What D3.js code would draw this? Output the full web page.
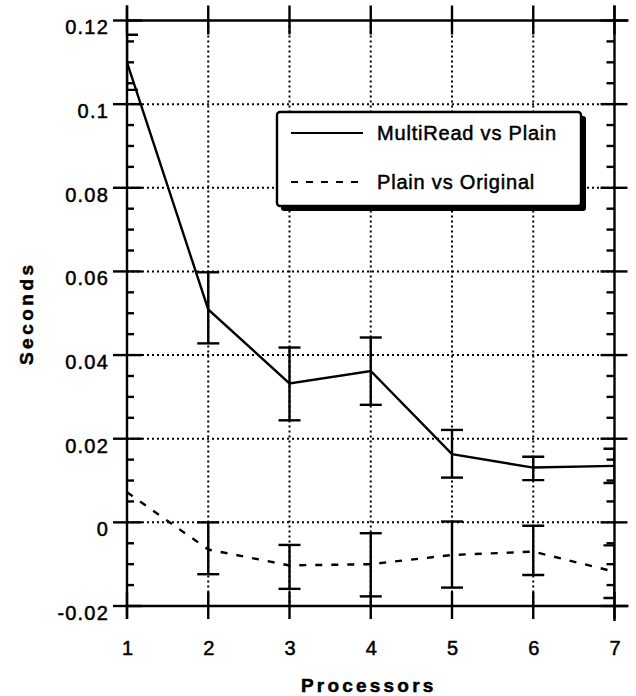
<!DOCTYPE html>
<html lang="en">
  <head>
    <meta charset="utf-8" />
    <title>MultiRead vs Plain</title>
    <script src="https://d3js.org/d3.v7.min.js"></script>
    <style type="text/css">
      body { margin: 0; background: #fff; }
      text { font-family: 'Liberation Sans', Arial, Helvetica, sans-serif; fill: #000; stroke: #000; stroke-width: 0.5px; }
    </style>
  </head>
  <body>
    <script type="text/javascript">
      //Width and height
      const w = 636;
      const h = 696;

      const processors = [1, 2, 3, 4, 5, 6, 7];

      // MultiRead vs Plain
      const multiRead = [0.110, 0.0509, 0.0332, 0.0362, 0.0163, 0.0131, 0.0135];
      const multiReadHigh = [0.1166, 0.0598, 0.0418, 0.0442, 0.0221, 0.0157, 0.0176];
      const multiReadLow = [0.1034, 0.0428, 0.0244, 0.0281, 0.0107, 0.0101, 0.0094];

      // Plain vs Original
      const plainOrig = [0.0072, -0.0065, -0.0103, -0.0100, -0.0078, -0.0070, -0.0118];
      const plainOrigHigh = [null, 0.0, -0.0054, -0.0026, 0.0002, -0.0008, -0.0055];
      const plainOrigLow = [null, -0.0124, -0.0159, -0.0177, -0.0156, -0.0126, -0.0181];

      const yTicks = [-0.02, 0, 0.02, 0.04, 0.06, 0.08, 0.1, 0.12];
      const yTickLabels = ['-0.02', '0', '0.02', '0.04', '0.06', '0.08', '0.1', '0.12'];
      const yMinor = [];
      for (let i = 0; i <= 28; i++) {
        if (i % 4 !== 0) yMinor.push(-0.02 + i * 0.005);
      }

      const legendNames = ['MultiRead vs Plain', 'Plain vs Original'];

      const xScale = d3.scaleLinear().domain([1, 7]).range([127, 614.5]);
      const yScale = d3.scaleLinear().domain([-0.02, 0.12]).range([606, 20.5]);

      const x0 = xScale(1), x1 = xScale(7);
      const yTop = yScale(0.12), yBot = yScale(-0.02);

      //Create SVG element
      const svg = d3.select('body').append('svg').attr('width', w).attr('height', h);

      svg.append('defs').append('clipPath').attr('id', 'plot')
        .append('rect').attr('x', x0).attr('y', yTop - 2).attr('width', x1 - x0).attr('height', yBot - yTop + 4);

      //dotted grid
      const grid = svg.append('g')
        .attr('stroke', '#000')
        .attr('stroke-width', 2)
        .attr('stroke-dasharray', '2,3');
      grid.selectAll('line.h')
        .data(yTicks.slice(1, -1))
        .enter()
        .append('line')
        .attr('x1', x0).attr('x2', x1)
        .attr('y1', (d) => yScale(d)).attr('y2', (d) => yScale(d));
      grid.selectAll('line.v')
        .data(processors.slice(1, -1))
        .enter()
        .append('line')
        .attr('x1', (d) => xScale(d)).attr('x2', (d) => xScale(d))
        .attr('y1', yTop).attr('y2', yBot);

      //frame and ticks
      const frame = svg.append('g').attr('stroke', '#000').attr('stroke-width', 2.4);
      frame.append('line').attr('x1', x0).attr('x2', x1 + 14).attr('y1', yTop).attr('y2', yTop);
      frame.append('line').attr('x1', x0).attr('x2', x1 + 14).attr('y1', yBot).attr('y2', yBot);
      frame.append('line').attr('x1', x0).attr('x2', x0).attr('y1', yTop - 15).attr('y2', yBot + 13);
      frame.append('line').attr('x1', x1).attr('x2', x1).attr('y1', yTop - 15).attr('y2', yBot + 15);

      yTicks.forEach((d) => {
        frame.append('line').attr('x1', x0 - 14).attr('x2', x0 + 15).attr('y1', yScale(d)).attr('y2', yScale(d));
        frame.append('line').attr('x1', x1 - 14).attr('x2', x1 + 13).attr('y1', yScale(d)).attr('y2', yScale(d));
      });
      yMinor.forEach((d) => {
        frame.append('line').attr('x1', x0).attr('x2', x0 + 7).attr('y1', yScale(d)).attr('y2', yScale(d));
        frame.append('line').attr('x1', x1 - 8).attr('x2', x1).attr('y1', yScale(d)).attr('y2', yScale(d));
      });
      processors.forEach((d) => {
        frame.append('line').attr('x1', xScale(d)).attr('x2', xScale(d)).attr('y1', yTop - 15).attr('y2', yTop + 14);
        frame.append('line').attr('x1', xScale(d)).attr('x2', xScale(d)).attr('y1', yBot - 14).attr('y2', yBot + 13);
      });

      //tick labels
      svg.append('g')
        .attr('transform', `translate(${x0 - 18},7)`)
        .call(d3.axisLeft(yScale).tickValues(yTicks).tickSize(0).tickPadding(0)
          .tickFormat((d, i) => yTickLabels[i]))
        .call((g) => g.select('.domain').remove())
        .selectAll('text')
        .attr('font-size', 20)
        .attr('letter-spacing', 1.2)
        .style('font-family', "'Liberation Sans', Arial, sans-serif");

      svg.append('g')
        .attr('transform', `translate(0,${yBot + 35})`)
        .call(d3.axisBottom(xScale).tickValues(processors).tickSize(0).tickPadding(0).tickFormat(d3.format('d')))
        .call((g) => g.select('.domain').remove())
        .selectAll('text')
        .attr('font-size', 20)
        .style('font-family', "'Liberation Sans', Arial, sans-serif");

      //axis titles
      svg.append('text')
        .attr('x', xScale(4) - 2)
        .attr('y', 692)
        .attr('text-anchor', 'middle')
        .attr('font-size', 19)
        .attr('font-weight', 'bold')
        .attr('letter-spacing', 3.2)
        .text('Processors');

      svg.append('text')
        .attr('transform', `translate(33,${yScale(0.05)}) rotate(-90)`)
        .attr('text-anchor', 'middle')
        .attr('font-size', 19)
        .attr('font-weight', 'bold')
        .attr('letter-spacing', 3.5)
        .text('Seconds');

      //data lines
      const line = d3.line().x((d, i) => xScale(processors[i])).y((d) => yScale(d));
      const plot = svg.append('g').attr('clip-path', 'url(#plot)');

      plot.append('path')
        .datum(multiRead)
        .attr('d', line)
        .attr('fill', 'none')
        .attr('stroke', '#000')
        .attr('stroke-width', 2.4);

      plot.append('path')
        .datum(plainOrig)
        .attr('d', line)
        .attr('fill', 'none')
        .attr('stroke', '#000')
        .attr('stroke-width', 2.4)
        .attr('stroke-dasharray', '7,9');

      //error bars
      function errorBars(high, low) {
        const bars = processors.map((p, i) => ({ p: p, hi: high[i], lo: low[i] })).filter((d) => d.hi !== null);
        const g = plot.append('g').attr('stroke', '#000').attr('stroke-width', 2.4);
        g.selectAll('line.stem')
          .data(bars)
          .enter()
          .append('line')
          .attr('x1', (d) => xScale(d.p)).attr('x2', (d) => xScale(d.p))
          .attr('y1', (d) => yScale(d.hi)).attr('y2', (d) => yScale(d.lo));
        g.selectAll('line.hi')
          .data(bars)
          .enter()
          .append('line')
          .attr('x1', (d) => xScale(d.p) - 11).attr('x2', (d) => xScale(d.p) + 11)
          .attr('y1', (d) => yScale(d.hi)).attr('y2', (d) => yScale(d.hi));
        g.selectAll('line.lo')
          .data(bars)
          .enter()
          .append('line')
          .attr('x1', (d) => xScale(d.p) - 11).attr('x2', (d) => xScale(d.p) + 11)
          .attr('y1', (d) => yScale(d.lo)).attr('y2', (d) => yScale(d.lo));
      }
      errorBars(multiReadHigh, multiReadLow);
      errorBars(plainOrigHigh, plainOrigLow);

      //legend
      const legend = svg.append('g');
      legend.append('rect')
        .attr('x', 281).attr('y', 116)
        .attr('width', 305).attr('height', 95)
        .attr('rx', 3)
        .attr('fill', '#000');
      legend.append('rect')
        .attr('x', 277).attr('y', 112)
        .attr('width', 304).attr('height', 94)
        .attr('rx', 3)
        .attr('fill', '#fff')
        .attr('stroke', '#000')
        .attr('stroke-width', 2.4);

      legend.selectAll('line')
        .data(legendNames)
        .enter()
        .append('line')
        .attr('x1', 291).attr('x2', 363)
        .attr('y1', (d, i) => 133 + i * 49).attr('y2', (d, i) => 133 + i * 49)
        .attr('stroke', '#000')
        .attr('stroke-width', 2.2)
        .attr('stroke-dasharray', (d, i) => (i === 0 ? null : '7,8'));

      legend.selectAll('text')
        .data(legendNames)
        .enter()
        .append('text')
        .attr('x', 377)
        .attr('y', (d, i) => 140 + i * 49)
        .attr('font-size', 20)
        .attr('letter-spacing', 0.8)
        .text((d) => d);
    </script>
  </body>
</html>
